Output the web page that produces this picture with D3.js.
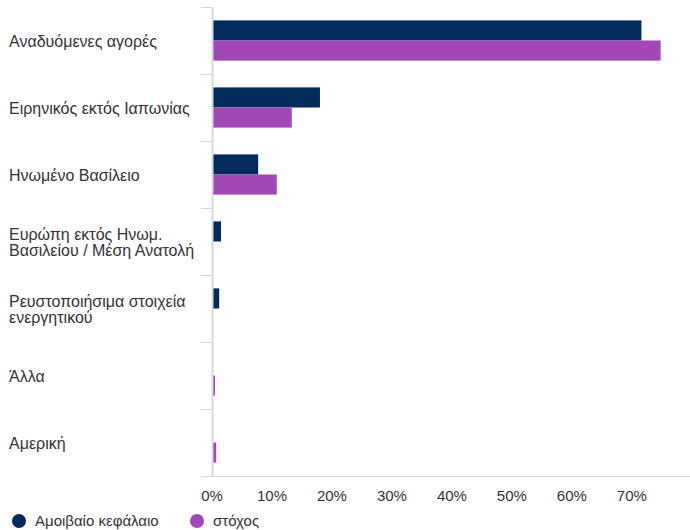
<!DOCTYPE html>
<html>
<head>
<meta charset="utf-8">
<script src="https://cdn.jsdelivr.net/npm/d3@7"></script>
<style>
  body { margin: 0; background: #fff; }
  svg { font-family: "Liberation Sans", Arial, sans-serif; }
</style>
</head>
<body>
<div id="chart"></div>
<script>
// categories and series values (percent)
var categories = [
  ["Αναδυόμενες αγορές"],
  ["Ειρηνικός εκτός Ιαπωνίας"],
  ["Ηνωμένο Βασίλειο"],
  ["Ευρώπη εκτός Ηνωμ.", "Βασιλείου / Μέση Ανατολή"],
  ["Ρευστοποιήσιμα στοιχεία", "ενεργητικού"],
  ["Άλλα"],
  ["Αμερική"]
];
var fundValues = [71.6, 18.0, 7.7, 1.5, 1.2, 0, 0];
var targetValues = [74.8, 13.3, 10.8, 0, 0, 0.5, 0.7];
var seriesNames = ["Αμοιβαίο κεφάλαιο", "στόχος"];
var seriesColors = ["#002b5c", "#a346b8"];
var xTicks = [0, 10, 20, 30, 40, 50, 60, 70];

var margin = {top: 7, right: 0, bottom: 54, left: 212},
    width = 690 - margin.left - margin.right,
    height = 530 - margin.top - margin.bottom;

var x = d3.scaleLinear()
          .domain([0, 79.7])
          .range([0, width]);
var y = d3.scaleBand()
          .domain(d3.range(categories.length))
          .range([0, height]);
var inner = d3.scaleBand()
          .domain([0, 1])
          .range([y.bandwidth() * 0.2, y.bandwidth() * 0.8]);

var svg = d3.select("#chart").append("svg")
      .attr("width", 690)
      .attr("height", 530);
var g = svg.append("g")
      .attr("transform", "translate(" + margin.left + "," + margin.top + ")");

// bars
var series = [fundValues, targetValues];
series.forEach(function(vals, s) {
  g.selectAll(".bar" + s)
      .data(vals)
    .enter().append("rect")
      .attr("x", 0)
      .attr("y", function(d, i) { return y(i) + inner(s); })
      .attr("width", function(d) { return x(d); })
      .attr("height", inner.bandwidth())
      .attr("fill", seriesColors[s]);
});

// category tick marks
var yTickPos = d3.range(categories.length + 1).map(function(i) {
  return i < categories.length ? y(i) : height;
});
g.selectAll(".ytick")
    .data(yTickPos)
  .enter().append("line")
    .attr("x1", -11).attr("x2", 0)
    .attr("y1", function(d) { return Math.round(d) + 0.5; })
    .attr("y2", function(d) { return Math.round(d) + 0.5; })
    .attr("stroke", "#ccd6eb");

// category labels
var labels = g.selectAll(".ylab")
    .data(categories)
  .enter().append("text")
    .attr("x", 9 - margin.left)
    .attr("y", function(d, i) { return y(i) + y.bandwidth() / 2 - (d.length - 1) * 8 + 6; })
    .attr("font-size", "16px")
    .attr("fill", "#333");
labels.selectAll("tspan")
    .data(function(d) { return d; })
  .enter().append("tspan")
    .attr("x", 9 - margin.left)
    .attr("dy", function(d, i) { return i ? 16 : 0; })
    .text(function(d) { return d; });

// vertical axis line
g.append("line")
    .attr("x1", 0.5).attr("x2", 0.5)
    .attr("y1", 0).attr("y2", height)
    .attr("stroke", "#d8d8d8").attr("stroke-width", 2);

// bottom axis line
g.append("line")
    .attr("x1", -11).attr("x2", width)
    .attr("y1", height + 0.5).attr("y2", height + 0.5)
    .attr("stroke", "#ccd6eb");

// x tick labels
g.selectAll(".xlab")
    .data(xTicks)
  .enter().append("text")
    .attr("x", function(d) { return x(d); })
    .attr("y", height + 25)
    .attr("text-anchor", "middle")
    .attr("font-size", "15px")
    .attr("fill", "#333")
    .text(function(d) { return d + "%"; });

// legend
var legendX = [19, 197];
seriesNames.forEach(function(name, i) {
  svg.append("circle")
      .attr("cx", legendX[i]).attr("cy", 521)
      .attr("r", 7)
      .attr("fill", seriesColors[i]);
  svg.append("text")
      .attr("x", legendX[i] + 16).attr("y", 526)
      .attr("font-size", "15px")
      .attr("fill", "#333")
      .text(name);
});
</script>
</body>
</html>
